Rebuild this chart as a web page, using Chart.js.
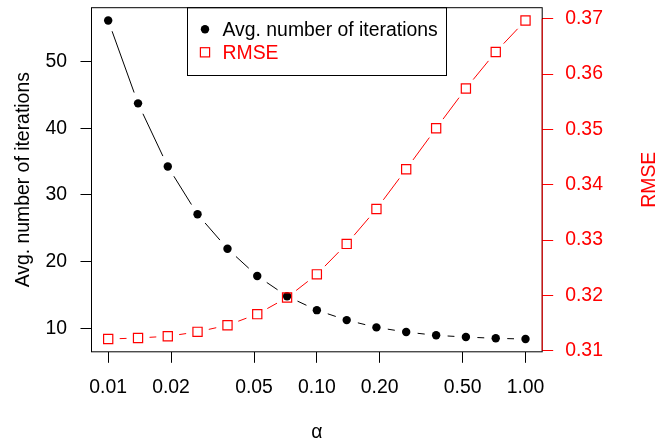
<!DOCTYPE html>
<html lang="en">
<head>
  <meta charset="UTF-8">
  <title>Avg. number of iterations and RMSE vs alpha</title>
  <script src="https://cdn.jsdelivr.net/npm/chart.js"></script>
  <style>
    body { margin: 0; background: #fff; }
  </style>
</head>
<body>
  <canvas id="alphaChart" width="672" height="445"></canvas>

  <script>
    // values
    const alphaValues = [0.01, 0.0139, 0.0193, 0.0268, 0.0373, 0.0518, 0.072, 0.1, 0.139, 0.193, 0.268, 0.373, 0.518, 0.72, 1.0];
    const avgIterations = [56.16, 43.73, 34.27, 27.1, 21.94, 17.85, 14.82, 12.73, 11.24, 10.15, 9.45, 8.96, 8.7, 8.51, 8.4];
    const rmseValues = [0.3121, 0.3123, 0.3126, 0.3134, 0.3146, 0.3166, 0.3196, 0.3238, 0.3293, 0.3356, 0.3428, 0.3502, 0.3574, 0.364, 0.3697];

    const xTicks = [0.01, 0.02, 0.05, 0.1, 0.2, 0.5, 1.0];
    const iterTicks = [10, 20, 30, 40, 50];
    const rmseTicks = [0.31, 0.32, 0.33, 0.34, 0.35, 0.36, 0.37];

    const iterLabel = 'Avg. number of iterations';
    const rmseLabel = 'RMSE';
    const xLabel = 'α';

    const FONT = '"Liberation Sans", Arial, Helvetica, sans-serif';
    const FONT_SIZE = 19.4;
    const RED = '#ff0000';
    const GAP = 11.5; // gap around points, like R type="b"

    // fixed plot region (pixels)
    const area = { top: 5.5, left: 91.5, right: 542.2, bottom: 351.8 };

    // R style 4% axis extension
    function rRange(vals) {
      const lo = Math.min(...vals), hi = Math.max(...vals);
      const pad = (hi - lo) * 0.04;
      return [lo - pad, hi + pad];
    }
    const iterRange = rRange(avgIterations);
    const rmseRange = rRange(rmseValues);
    const logRange = rRange(alphaValues.map(Math.log10));

    const setTicks = (list) => (scale) => {
      scale.ticks = list.map(v => ({ value: v }));
    };

    const gapLines = {
      id: 'gapLines',
      beforeDatasetDraw(chart, args) {
        const ds = chart.data.datasets[args.index];
        const pts = args.meta.data;
        const ctx = chart.ctx;
        ctx.save();
        ctx.strokeStyle = ds.borderColor;
        ctx.lineWidth = 1;
        ctx.beginPath();
        for (let i = 1; i < pts.length; i++) {
          const a = pts[i - 1], b = pts[i];
          const dx = b.x - a.x, dy = b.y - a.y;
          const len = Math.hypot(dx, dy);
          if (len <= 2 * GAP) continue;
          const ux = dx / len, uy = dy / len;
          ctx.moveTo(a.x + ux * GAP, a.y + uy * GAP);
          ctx.lineTo(b.x - ux * GAP, b.y - uy * GAP);
        }
        ctx.stroke();
        ctx.restore();
      }
    };

    const frameAndLegend = {
      id: 'frameAndLegend',
      beforeDatasetsDraw(chart) {
        const ctx = chart.ctx;
        const ca = chart.chartArea;
        ctx.save();
        ctx.strokeStyle = '#000';
        ctx.lineWidth = 1;
        ctx.strokeRect(ca.left, ca.top, ca.right - ca.left, ca.bottom - ca.top);
        ctx.restore();
      },
      afterDraw(chart) {
        const ctx = chart.ctx;
        const ca = chart.chartArea;
        const yR = chart.scales.yR;

        // red right axis line, first to last tick
        ctx.save();
        ctx.strokeStyle = RED;
        ctx.lineWidth = 1;
        ctx.beginPath();
        ctx.moveTo(ca.right, yR.getPixelForValue(rmseTicks[0]));
        ctx.lineTo(ca.right, yR.getPixelForValue(rmseTicks[rmseTicks.length - 1]));
        ctx.stroke();

        // right axis title, reading upwards
        ctx.font = FONT_SIZE + 'px ' + FONT;
        ctx.fillStyle = RED;
        ctx.textAlign = 'center';
        ctx.textBaseline = 'alphabetic';
        ctx.translate(654.5, (ca.top + ca.bottom) / 2);
        ctx.rotate(-Math.PI / 2);
        ctx.fillText(rmseLabel, 0, 0);
        ctx.restore();

        // legend box
        const box = { left: 187.5, top: ca.top, right: 446.5, bottom: 75.5 };
        ctx.save();
        ctx.strokeStyle = '#000';
        ctx.lineWidth = 1;
        ctx.strokeRect(box.left, box.top, box.right - box.left, box.bottom - box.top);
        ctx.font = FONT_SIZE + 'px ' + FONT;
        ctx.textAlign = 'left';
        ctx.textBaseline = 'alphabetic';

        const ds = chart.data.datasets;
        // entry 1: filled circle
        ctx.fillStyle = '#000';
        ctx.beginPath();
        ctx.arc(205, 29.3, ds[0].pointRadius, 0, Math.PI * 2);
        ctx.fill();
        ctx.fillText(ds[0].label, 222.5, 36);
        // entry 2: open square
        const half = ds[1].pointRadius * Math.SQRT1_2;
        ctx.strokeStyle = RED;
        ctx.lineWidth = ds[1].borderWidth;
        ctx.strokeRect(205 - half, 52.3 - half, half * 2, half * 2);
        ctx.fillStyle = RED;
        ctx.fillText(ds[1].label, 222.5, 59.3);
        ctx.restore();
      }
    };

    const ctx = document.getElementById('alphaChart').getContext('2d');
    const alphaChart = new Chart(ctx, {
      type: 'line',
      data: {
        datasets: [{
          label: iterLabel,
          data: alphaValues.map((a, i) => ({ x: a, y: avgIterations[i] })),
          yAxisID: 'y',
          showLine: false,
          borderColor: '#000',
          backgroundColor: '#000',
          pointStyle: 'circle',
          pointRadius: 4.2,
          pointBorderWidth: 0,
          borderWidth: 0,
          order: 2
        }, {
          label: rmseLabel,
          data: alphaValues.map((a, i) => ({ x: a, y: rmseValues[i] })),
          yAxisID: 'yR',
          showLine: false,
          borderColor: RED,
          backgroundColor: 'rgba(0,0,0,0)',
          pointStyle: 'rect',
          pointRadius: 6.5,
          pointBorderWidth: 1.2,
          borderWidth: 1.2,
          order: 1
        }]
      },
      options: {
        responsive: false,
        animation: false,
        devicePixelRatio: 1,
        events: [],
        layout: { padding: { top: area.top, left: 0, right: 0, bottom: 0 } },
        plugins: {
          legend: { display: false },
          tooltip: { enabled: false }
        },
        scales: {
          x: {
            type: 'logarithmic',
            bounds: 'data',
            min: Math.pow(10, logRange[0]),
            max: Math.pow(10, logRange[1]),
            afterBuildTicks: setTicks(xTicks),
            afterFit(scale) {
              scale.height = 445 - area.bottom;
              scale.paddingLeft = 0;
              scale.paddingRight = 0;
            },
            grid: { drawOnChartArea: false, drawTicks: true, tickLength: 11, tickColor: '#000', tickWidth: 1 },
            border: { display: false },
            ticks: {
              autoSkip: false,
              maxRotation: 0,
              padding: 13,
              color: '#000',
              font: { family: FONT, size: FONT_SIZE },
              callback: (v) => Number(v).toFixed(2)
            },
            title: {
              display: true,
              text: xLabel,
              color: '#000',
              font: { family: FONT, size: FONT_SIZE },
              padding: { top: 0, bottom: 0.5 }
            }
          },
          y: {
            type: 'linear',
            position: 'left',
            min: iterRange[0],
            max: iterRange[1],
            afterBuildTicks: setTicks(iterTicks),
            afterFit(scale) {
              scale.width = area.left;
              scale.paddingTop = 0;
              scale.paddingBottom = 0;
            },
            grid: { drawOnChartArea: false, drawTicks: true, tickLength: 11, tickColor: '#000', tickWidth: 1 },
            border: { display: false },
            ticks: {
              padding: 13.5,
              color: '#000',
              font: { family: FONT, size: FONT_SIZE },
              callback: (v) => String(v)
            },
            title: {
              display: true,
              text: iterLabel,
              color: '#000',
              font: { family: FONT, size: FONT_SIZE },
              padding: { top: 12, bottom: 0 }
            }
          },
          yR: {
            type: 'linear',
            position: 'right',
            min: rmseRange[0],
            max: rmseRange[1],
            afterBuildTicks: setTicks(rmseTicks),
            afterFit(scale) {
              scale.width = 672 - area.right;
              scale.paddingTop = 0;
              scale.paddingBottom = 0;
            },
            grid: { drawOnChartArea: false, drawTicks: true, tickLength: 11, tickColor: RED, tickWidth: 1 },
            border: { display: false },
            ticks: {
              padding: 12,
              color: RED,
              font: { family: FONT, size: FONT_SIZE },
              callback: (v) => Number(v).toFixed(2)
            }
          }
        }
      },
      plugins: [gapLines, frameAndLegend]
    });
  </script>
</body>
</html>
